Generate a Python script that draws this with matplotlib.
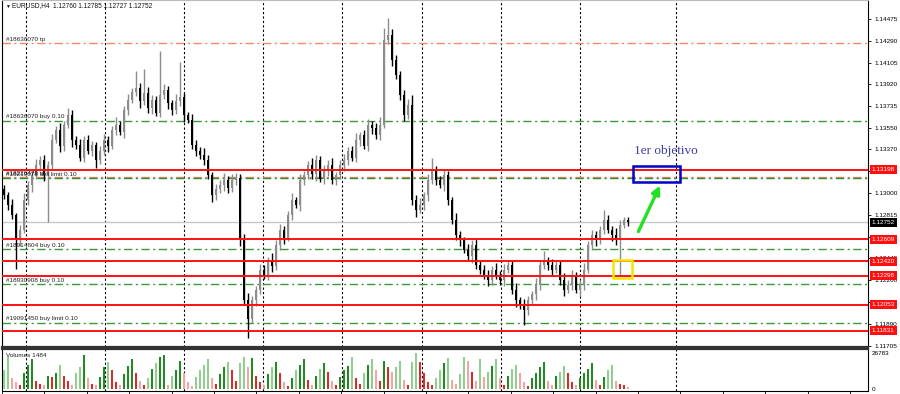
import matplotlib
matplotlib.use('Agg')
import matplotlib.pyplot as plt
import matplotlib.transforms as mtransforms
from matplotlib.patches import Rectangle
import numpy as np

plt.rcParams['font.family'] = ['Liberation Sans', 'DejaVu Sans']

# closing prices, one per H4 bar
closes = [
  1.1298, 1.1290, 1.1281, 1.1260, 1.1269, 1.1294, 1.1307, 1.1315, 1.1324, 1.1328,
  1.1315, 1.1324, 1.1345, 1.1353, 1.1340, 1.1358, 1.1366, 1.1345, 1.1341, 1.1330,
  1.1345, 1.1336, 1.1341, 1.1328, 1.1336, 1.1345, 1.1340, 1.1353, 1.1358, 1.1352,
  1.1370, 1.1379, 1.1386, 1.1389, 1.1378, 1.1385, 1.1372, 1.1379, 1.1368, 1.1383,
  1.1387, 1.1376, 1.1370, 1.1378, 1.1381, 1.1366, 1.1362, 1.1341, 1.1336, 1.1332,
  1.1328, 1.1315, 1.1298, 1.1303, 1.1307, 1.1311, 1.1304, 1.1311, 1.1313, 1.1260,
  1.1209, 1.1193, 1.1209, 1.1218, 1.1235, 1.1230, 1.1243, 1.1238, 1.1256, 1.1269,
  1.1262, 1.1281, 1.1294, 1.1290, 1.1311, 1.1315, 1.1324, 1.1316, 1.1328, 1.1312,
  1.1319, 1.1324, 1.1311, 1.1315, 1.1324, 1.1328, 1.1336, 1.1330, 1.1345, 1.1349,
  1.1340, 1.1358, 1.1355, 1.1349, 1.1358, 1.1430, 1.1434, 1.1413, 1.1400, 1.1383,
  1.1366, 1.1375, 1.1294, 1.1286, 1.1290, 1.1298, 1.1311, 1.1319, 1.1311, 1.1307,
  1.1315, 1.1294, 1.1277, 1.1264, 1.1260, 1.1252, 1.1247, 1.1256, 1.1239, 1.1235,
  1.1230, 1.1226, 1.1235, 1.1230, 1.1226, 1.1235, 1.1239, 1.1218, 1.1209, 1.1205,
  1.1201, 1.1209, 1.1214, 1.1222, 1.1239, 1.1243, 1.1239, 1.1235, 1.1239, 1.1226,
  1.1218, 1.1222, 1.1230, 1.1218, 1.1222, 1.1235, 1.1256, 1.1264, 1.1260, 1.1269,
  1.1277, 1.1269, 1.1264, 1.1260, 1.1273, 1.1277, 1.12752,
]
first_open = 1.1303

# wicks beyond the body, in pips
upper_pips = [
  4, 3, 5, 2, 4, 6, 3, 4, 5, 3,
  4, 3, 5, 4, 6, 3, 6, 4, 3, 5,
  3, 4, 3, 2, 4, 5, 3, 4, 6, 3,
  4, 5, 3, 14, 4, 20, 5, 4, 3, 37,
  5, 4, 3, 6, 30, 4, 3, 5, 4, 3,
  6, 4, 3, 5, 4, 6, 3, 5, 4, 3,
  5, 6, 4, 3, 5, 4, 3, 6, 4, 5,
  3, 4, 6, 3, 5, 4, 3, 6, 4, 3,
  5, 4, 6, 3, 4, 5, 3, 4, 6, 3,
  4, 5, 3, 4, 6, 10, 14, 5, 4, 3,
  4, 5, 8, 4, 6, 3, 5, 11, 4, 3,
  5, 4, 3, 6, 4, 3, 5, 4, 6, 3,
  4, 5, 3, 6, 4, 5, 3, 4, 6, 3,
  5, 4, 3, 6, 4, 8, 3, 5, 4, 3,
  6, 4, 5, 3, 4, 6, 3, 5, 4, 3,
  9, 4, 3, 6, 4, 3, 3,
]
lower_pips = [
  3, 4, 3, 24, 5, 3, 4, 6, 3, 4,
  5, 40, 4, 3, 5, 4, 3, 6, 4, 3,
  4, 3, 5, 7, 3, 4, 5, 3, 4, 3,
  5, 4, 3, 4, 6, 3, 4, 5, 3, 4,
  3, 5, 4, 3, 4, 6, 3, 4, 5, 3,
  4, 3, 6, 4, 3, 5, 4, 3, 4, 5,
  4, 16, 3, 5, 4, 3, 4, 5, 3, 4,
  5, 3, 4, 3, 5, 4, 3, 4, 6, 3,
  4, 5, 3, 4, 3, 5, 4, 3, 4, 5,
  3, 4, 5, 3, 4, 3, 4, 5, 3, 4,
  5, 3, 4, 6, 3, 4, 5, 3, 4, 3,
  5, 4, 3, 4, 5, 3, 4, 6, 3, 4,
  3, 5, 4, 3, 4, 5, 3, 4, 6, 3,
  13, 4, 3, 5, 4, 3, 4, 5, 3, 4,
  5, 3, 4, 3, 5, 4, 3, 4, 5, 3,
  4, 3, 5, 4, 30, 3, 3,
]

# tick volume, thousands
volume_k = [
  14, 24, 8, 5, 3, 12, 18, 22, 6, 4,
  3, 10, 9, 12, 18, 10, 6, 3, 12, 16,
  25, 8, 4, 3, 9, 16, 20, 14, 5, 3,
  11, 17, 22, 12, 6, 3, 8, 15, 19, 24,
  25, 3, 10, 14, 21, 12, 5, 2, 9, 14,
  18, 22, 8, 4, 11, 16, 20, 14, 6, 19,
  24, 16, 23, 10, 5, 3, 11, 16, 20, 12,
  5, 2, 8, 14, 18, 22, 7, 3, 10, 15,
  19, 13, 6, 3, 9, 14, 17, 24, 8, 4,
  12, 18, 22, 14, 6, 21, 16, 13, 16, 21,
  7, 3, 20, 26.783, 20, 12, 5, 3, 8, 14,
  19, 23, 7, 4, 11, 24, 21, 13, 6, 22,
  9, 13, 17, 22, 8, 3, 10, 15, 18, 12,
  5, 2, 8, 12, 16, 20, 6, 3, 10, 13,
  17, 12, 5, 3, 8, 12, 15, 19, 7, 3,
  9, 14, 18, 6, 4, 3, 1.484,
]

# horizontal support / resistance levels (red)
levels = [1.13198, 1.12609, 1.12420, 1.12298, 1.12053, 1.11831]
bid = 1.12752

# order lines: label, price, colour
orders = [
  ('#18636070 tp', 1.14269, '#f08a6a'),
  ('#18636070 buy 0.10', 1.13613, '#3a9a3a'),
  ('#18226473 tp', 1.13135, '#f08a6a'),
  ('#18219078 sell limit 0.10', 1.13124, '#2e8b2e'),
  ('#18914604 buy 0.10', 1.12523, '#3a9a3a'),
  ('#18930908 buy 0.10', 1.12229, '#3a9a3a'),
  ('#19091450 buy limit 0.10', 1.11901, '#3a9a3a'),
]

price_ticks = [1.14475, 1.14290, 1.14105, 1.13920, 1.13735, 1.13550, 1.13370, 1.13185,
               1.13000, 1.12815, 1.12630, 1.12445, 1.12260, 1.12075, 1.11890, 1.11705]
price_labels = ['1.14475', '1.14290', '1.14105', '1.13920', '1.13735', '1.13550', '1.13370', '1.13185',
                '1.13000', '1.12815', '1.12630', '1.12445', '1.12260', '1.12075', '1.11890', '1.11705']

grid_bars = [5.5, 25.25, 45, 64.75, 84.5, 104.5, 124.25, 144, 168]

# drawn annotations
target_bars = (157.3, 169.0)
target_prices = (1.13093, 1.13229)
entry_bars = (152.3, 157.0)
entry_prices = (1.12279, 1.12432)
arrow_from = (158.3, 1.12652)
arrow_to = (164.3, 1.13085)

n = len(closes)
x = np.arange(n)
c = np.array(closes)
o = np.concatenate([[first_open], c[:-1]])
hi = np.maximum(o, c) + np.array(upper_pips) * 0.0001
lo = np.minimum(o, c) - np.array(lower_pips) * 0.0001
vol = np.array(volume_k) * 1000
bull = c >= o

fig = plt.figure(figsize=(9, 3.94), dpi=100)
ax = fig.add_axes([2/900, 47/394, 866/900, 347/394])
axv = fig.add_axes([2/900, 3/394, 866/900, 42/394], sharex=ax)

for a in (ax, axv):
  for gx in grid_bars:
    a.axvline(gx, color='black', lw=0.8, linestyle=(0, (2, 2)), zorder=1)

# candles
col = np.where(bull, '#8c8c8c', '#000000')
ax.vlines(x, lo, hi, colors=col, lw=1.0, zorder=3)
body = np.maximum(np.abs(c - o), 0.00004)
ax.bar(x, body, bottom=np.minimum(o, c), width=0.72, color=col, zorder=3)

# levels and order lines
ax.axhline(bid, color='#c8c8c8', lw=1.0, zorder=2)
for lv in levels:
  ax.axhline(lv, color='#ff1010', lw=1.4, zorder=4)

lbl = mtransforms.blended_transform_factory(ax.transAxes, ax.transData)
for i, (name, p, clr) in enumerate(orders):
  ax.axhline(p, color=clr, lw=1.0, linestyle=(0, (6, 2.5, 1.5, 2.5)), zorder=2)
  ax.text(0.005, p + 0.00012, name, transform=lbl, fontsize=4.6, color='#222222',
          va='bottom', ha='left', zorder=5)

# price scale
ax.set_xlim(-0.5, 216)
ax.set_ylim(1.116946, 1.146360)
ax.yaxis.tick_right()
ax.set_yticks(price_ticks)
ax.set_yticklabels(price_labels)
ax.tick_params(axis='y', labelsize=4.6, length=2.5, pad=2, width=0.6)
ax.tick_params(axis='x', bottom=False, labelbottom=False)

for lv in levels:
  ax.text(1.0046, lv, '%.5f' % lv, transform=lbl, fontsize=4.6, color='white',
          va='center', ha='left', clip_on=False, zorder=6,
          bbox=dict(boxstyle='square,pad=0.3', fc='#ff1010', ec='none'))
ax.text(1.0046, bid, '%.5f' % bid, transform=lbl, fontsize=4.6, color='white',
        va='center', ha='left', clip_on=False, zorder=6,
        bbox=dict(boxstyle='square,pad=0.3', fc='#000000', ec='none'))

# annotations
ax.add_patch(Rectangle((target_bars[0], target_prices[0]), target_bars[1] - target_bars[0],
                       target_prices[1] - target_prices[0], fill=False, ec='#0000cc', lw=1.8, zorder=7))
ax.add_patch(Rectangle((entry_bars[0], entry_prices[0]), entry_bars[1] - entry_bars[0],
                       entry_prices[1] - entry_prices[0], fill=False, ec='#f2e600', lw=1.8, zorder=7))
ax.annotate('', xy=arrow_to, xytext=arrow_from,
            arrowprops=dict(arrowstyle='-|>', color='#22e022', lw=2.4, mutation_scale=12), zorder=7)
ax.text(157.5, 1.13356, '1er objetivo', fontsize=9.5, color='#3c3caa',
        family=['Liberation Serif', 'DejaVu Serif'], va='center', ha='left', zorder=7)

for s in ['left', 'right', 'top']:
  ax.spines[s].set_linewidth(0.8)
ax.spines['top'].set_color('#bbbbbb')
ax.spines['bottom'].set_linewidth(1.6)
ax.spines['bottom'].set_color('#333333')

# volume pane
prev = np.concatenate([[vol[0]], vol[:-1]])
up_vol = vol >= prev
vcol = np.where(up_vol, np.where(bull, '#1e8c1e', '#8fd08f'), np.where(bull, '#e02828', '#f5a3a3'))
axv.bar(x, vol, width=0.5, color=vcol, zorder=3)
axv.set_ylim(-1488, 29759)
axv.yaxis.tick_right()
axv.set_yticks([0, 26783])
axv.set_yticklabels(['0', '26783'])
axv.tick_params(axis='y', labelsize=4.6, length=0, pad=3)
axv.set_xticks(np.arange(-0.5, 216, 10.6))
axv.tick_params(axis='x', length=2.5, width=0.6, labelbottom=False)
axv.spines['top'].set_linewidth(1.6)
axv.spines['top'].set_color('#333333')
axv.text(0.005, 0.84, 'Volumes 1484', transform=axv.transAxes, fontsize=4.6, color='#222222',
         va='center', ha='left')

fig.text(5/900, 1 - 6/394, '\u25bc', fontsize=3.5, va='center', ha='left', color='#111111')
fig.text(12/900, 1 - 6/394, 'EURUSD,H4  1.12760 1.12785 1.12727 1.12752', fontsize=4.7,
         va='center', ha='left', color='#111111')

fig.savefig('out.png', dpi=100)
